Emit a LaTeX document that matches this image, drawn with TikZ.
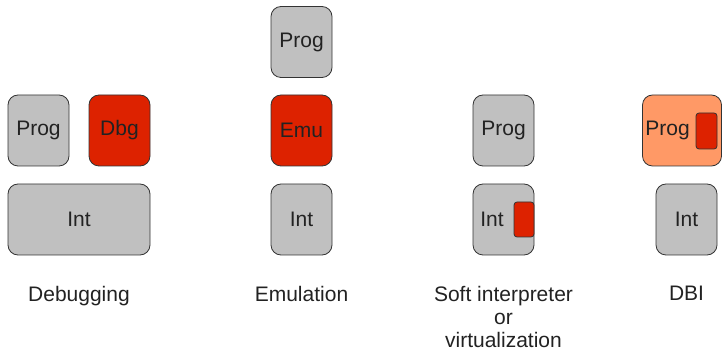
\documentclass[tikz,border=0pt]{standalone}
\usepackage{fontspec}
\setmainfont{Liberation Sans}
\definecolor{boxgray}{HTML}{C0C0C0}
\definecolor{boxred}{HTML}{DD2200}
\definecolor{boxorange}{HTML}{FF9966}
\definecolor{edge}{HTML}{333333}
\definecolor{txt}{HTML}{222222}
\begin{document}
\begin{tikzpicture}[x=1pt,y=-1pt,
  box/.style={draw=edge,line width=0.8pt,rounded corners=10pt,inner sep=0pt,
    minimum width=61pt,minimum height=71pt,text=txt,
    font=\fontsize{21}{24}\selectfont},
  graybox/.style={box,fill=boxgray},
  redbox/.style={box,fill=boxred},
  inner/.style={draw=edge,line width=0.8pt,rounded corners=3pt,fill=boxred,inner sep=0pt},
  boxtext/.style={text=txt,font=\fontsize{21}{24}\selectfont,inner sep=0pt},
  caption/.style={text=txt,align=center,font=\fontsize{21}{23}\selectfont,anchor=north}]
\useasboundingbox (0,0) rectangle (722,352);
% Debugging
\node[graybox] (dprog) at (38.5,130.5) {Prog};
\node[redbox] (ddbg) at (119.5,130.5) {Dbg};
\node[graybox,minimum width=142pt] (dint) at (79,219.5) {Int};
\node[caption] (dlab) at (79,283) {Debugging};
% Emulation
\node[graybox] (eprog) at (301.5,42) {Prog};
\node[redbox] (eemu) at (301.5,130.5) {Emu};
\node[graybox] (eint) at (301.5,219.5) {Int};
\node[caption] (elab) at (301.5,283) {Emulation};
% Soft interpreter
\node[graybox] (sprog) at (503.5,130.5) {Prog};
\node[graybox] (sint) at (503.5,219.5) {};
\node[boxtext] (sinttext) at (492,219.5) {Int};
\node[inner,minimum width=20pt,minimum height=35pt] (sred) at (524,219.5) {};
\node[caption] (slab) at (503.5,283) {Soft interpreter\\or\\virtualization};
% DBI
\node[box,fill=boxorange,minimum width=79pt] (bprog) at (682,130.5) {};
\node[boxtext] (bprogtext) at (667.5,130.5) {Prog};
\node[inner,minimum width=21pt,minimum height=36pt] (bred) at (706.5,131) {};
\node[graybox] (bint) at (686.5,219.5) {Int};
\node[caption] (blab) at (686.5,283) {DBI};
\end{tikzpicture}
\end{document}
